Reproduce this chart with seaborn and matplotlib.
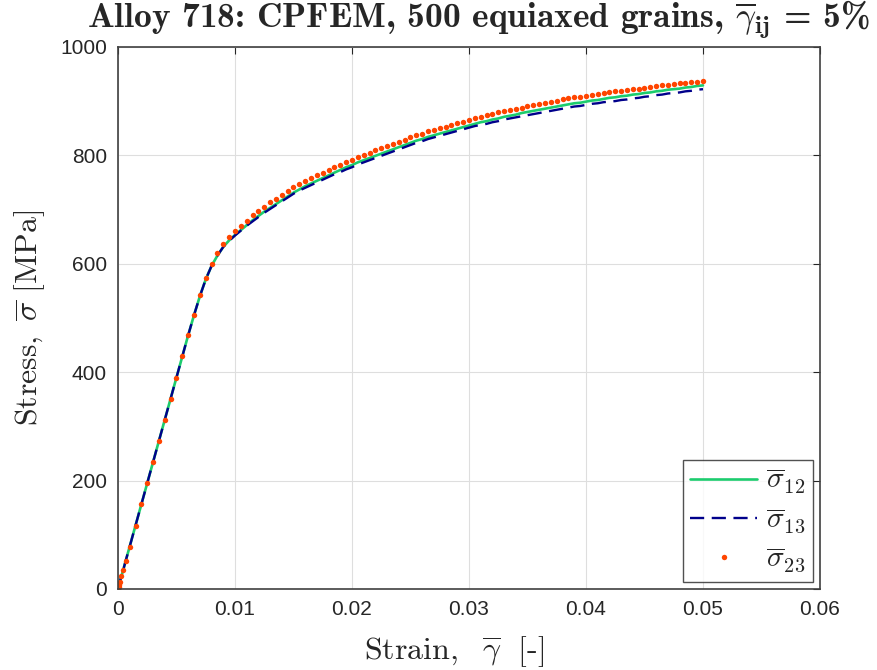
import numpy as np
import pandas as pd
import seaborn as sns
import matplotlib.pyplot as plt
from matplotlib.ticker import FuncFormatter

# Shear strain and stress components
strain = [0, 0.00002, 0.00005, 0.0001, 0.00015, 0.0003, 0.00045, 0.00065,
          0.001, 0.0015, 0.002, 0.0025, 0.003, 0.0035, 0.004, 0.0045, 0.005, 0.0055,
          0.006, 0.0065, 0.007, 0.0075, 0.008, 0.0085, 0.009, 0.0095,
          0.010, 0.0105, 0.011, 0.0115, 0.012, 0.0125, 0.013, 0.0135, 0.014, 0.0145,
          0.015, 0.0155, 0.016, 0.0165, 0.017, 0.0175, 0.018, 0.0185, 0.019, 0.0195,
          0.020, 0.0205, 0.021, 0.0215, 0.022, 0.0225, 0.023, 0.0235, 0.024, 0.0245,
          0.025, 0.0255, 0.026, 0.0265, 0.027, 0.0275, 0.028, 0.0285, 0.029, 0.0295,
          0.030, 0.0305, 0.031, 0.0315, 0.032, 0.0325, 0.033, 0.0335, 0.034, 0.0345,
          0.035, 0.0355, 0.036, 0.0365, 0.037, 0.0375, 0.038, 0.0385, 0.039, 0.0395,
          0.040, 0.0405, 0.041, 0.0415, 0.042, 0.0425, 0.043, 0.0435, 0.044, 0.0445,
          0.045, 0.0455, 0.046, 0.0465, 0.047, 0.0475, 0.048, 0.0485, 0.049, 0.0495,
          0.050]

sigma12 = [0, 2, 4, 8, 12, 24, 35, 51,
           78, 117, 156, 195, 234, 273, 312, 351, 390, 429,
           468, 505, 540, 571, 596, 615, 631, 643,
           653, 662, 671, 680, 688, 696, 703, 710, 717, 724,
           731, 737, 743, 748, 753, 758, 763, 768, 773, 778,
           782, 787, 791, 795, 799, 803, 807, 811, 815, 819,
           823, 827, 830, 834, 837, 840, 843, 846, 849, 852,
           855, 858, 861, 863, 866, 868, 871, 873, 875, 878,
           880, 882, 884, 886, 888, 890, 892, 894, 896, 897,
           899, 901, 902, 904, 906, 907, 909, 910, 912, 913,
           915, 916, 918, 919, 921, 922, 923, 925, 926, 928,
           929]

sigma13 = [0, 2, 4, 8, 12, 24, 35, 51,
           78, 117, 156, 195, 234, 273, 312, 351, 390, 429,
           468, 505, 540, 571, 596, 615, 631, 642,
           652, 661, 670, 678, 686, 694, 701, 708, 715, 722,
           729, 735, 740, 745, 750, 755, 760, 765, 769, 774,
           778, 783, 787, 791, 795, 799, 803, 807, 811, 815,
           819, 823, 826, 830, 833, 836, 839, 842, 845, 848,
           851, 854, 856, 858, 861, 863, 866, 868, 870, 872,
           874, 876, 878, 880, 882, 884, 886, 888, 890, 891,
           893, 895, 896, 898, 899, 900, 902, 903, 905, 906,
           908, 909, 911, 912, 914, 915, 916, 918, 919, 921,
           922]

sigma23 = [0, 2, 4, 8, 12, 24, 35, 51,
           78, 117, 156, 195, 234, 273, 312, 351, 390, 429,
           468, 506, 542, 573, 599, 619, 636, 649,
           660, 670, 679, 689, 697, 705, 713, 720, 727, 734,
           741, 747, 753, 758, 763, 768, 773, 778, 782, 787,
           791, 796, 800, 805, 809, 813, 817, 821, 825, 829,
           833, 837, 840, 844, 847, 850, 853, 856, 859, 862,
           865, 868, 871, 874, 876, 879, 881, 884, 886, 888,
           891, 893, 895, 897, 899, 901, 903, 905, 907, 908,
           910, 912, 913, 915, 916, 918, 919, 921, 922, 923,
           925, 926, 927, 929, 930, 931, 933, 934, 935, 936,
           937]

x_ticks = [0, 0.01, 0.02, 0.03, 0.04, 0.05, 0.06]
y_ticks = [0, 200, 400, 600, 800, 1000]

df = pd.DataFrame({'strain': strain, 's12': sigma12, 's13': sigma13, 's23': sigma23})

sns.set_style('white')
plt.rcParams['font.family'] = ['Liberation Sans', 'DejaVu Sans']
plt.rcParams['mathtext.fontset'] = 'cm'

fig = plt.figure(figsize=(8.77, 6.70), dpi=100)
ax = fig.add_axes([0.1345, 0.121, 0.8005, 0.809])

sns.lineplot(data=df, x='strain', y='s12', ax=ax, color='#1ccc6e', linewidth=1.9,
             estimator=None, sort=False, label=r'$\overline{\sigma}_{12}$')
sns.lineplot(data=df, x='strain', y='s13', ax=ax, color='#00008b', linewidth=1.7,
             linestyle=(0, (6, 3.2)), estimator=None, sort=False,
             label=r'$\overline{\sigma}_{13}$')
sns.lineplot(data=df, x='strain', y='s23', ax=ax, color='#ff4500', linestyle='',
             marker='o', markersize=3.9, markeredgewidth=0, estimator=None, sort=False,
             label=r'$\overline{\sigma}_{23}$')

ax.set_xlim(0, 0.06)
ax.set_ylim(0, 1000)
ax.set_xticks(x_ticks)
ax.set_yticks(y_ticks)
ax.xaxis.set_major_formatter(FuncFormatter(lambda v, p: '%g' % v))
ax.grid(True, color='#dedede', linewidth=0.8)
ax.tick_params(direction='in', length=5, width=0.8, labelsize=15, colors='#262626',
               top=True, right=True, pad=8)
for s in ax.spines.values():
    s.set_color('#404040')
    s.set_linewidth(1.2)

ax.set_xlabel(r'$\mathrm{Strain,}\ \ \overline{\gamma}\ \ \mathrm{[\text{-}]}$', fontsize=23)
ax.xaxis.set_label_coords(0.479, -0.083, transform=ax.transAxes)
ax.xaxis.label.set_va('top')
ax.set_ylabel(r'$\mathrm{Stress,}\ \overline{\sigma}\ \mathrm{[MPa]}$', fontsize=23, labelpad=9)
ax.set_title(r'Alloy 718: CPFEM, 500 equiaxed grains, $\overline{\gamma}_{\mathbf{ij}}$ = 5%',
             fontfamily='cmb10', fontsize=25.5, pad=13.5, x=0.513)

leg = ax.legend(loc='lower right', fontsize=21, frameon=True, fancybox=False,
                edgecolor='#262626', handlelength=2.3, borderaxespad=0.25,
                labelspacing=0.35, handletextpad=0.3, borderpad=0.25)
leg.get_frame().set_linewidth(1.0)

fig.savefig('out.png', dpi=100)
